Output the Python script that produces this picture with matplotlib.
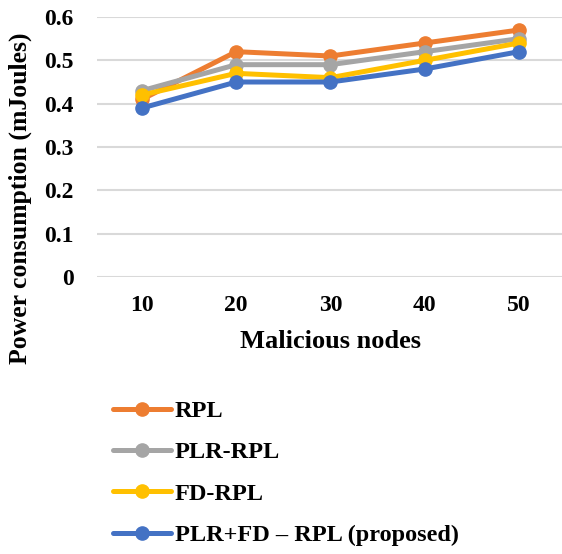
import matplotlib
matplotlib.use("Agg")
import matplotlib.pyplot as plt

categories = ["10", "20", "30", "40", "50"]
rpl = [0.41, 0.52, 0.51, 0.54, 0.57]
plr_rpl = [0.43, 0.49, 0.49, 0.52, 0.55]
fd_rpl = [0.42, 0.47, 0.46, 0.50, 0.54]
proposed = [0.39, 0.45, 0.45, 0.48, 0.52]
series_names = ["RPL", "PLR-RPL", "FD-RPL", "PLR+FD \u2013 RPL (proposed)"]
colors = ["#ED7D31", "#A5A5A5", "#FFC000", "#4472C4"]
yticks = [0, 0.1, 0.2, 0.3, 0.4, 0.5, 0.6]

plt.rcParams['font.family'] = ['Liberation Serif', 'DejaVu Serif']
plt.rcParams['font.weight'] = 'bold'

fig = plt.figure(figsize=(5.62, 5.54), dpi=100)
ax = fig.add_axes([97/562, 0.5, 465/562, 0.4693])

x = list(range(len(categories)))
handles = []
for vals, name, c in zip([rpl, plr_rpl, fd_rpl, proposed], series_names, colors):
    h, = ax.plot(x, vals, color=c, lw=3.6, marker='o', markersize=9.5, label=name,
                 solid_capstyle='round', solid_joinstyle='round')
    handles.append(h)

ax.set_ylim(0, 0.6)
ax.set_xlim(-0.477, 4.456)
ax.set_yticks(yticks)
ax.set_yticklabels(["0", "0.1", "0.2", "0.3", "0.4", "0.5", "0.6"], fontsize=17, fontweight='bold')
ax.set_xticks(x)
ax.set_xticklabels(categories, fontsize=17, fontweight='bold')
ax.grid(axis='y', color='#d9d9d9', lw=1.5)
ax.set_axisbelow(True)
for s in ax.spines.values():
    s.set_visible(False)
ax.tick_params(length=0)
ax.tick_params(axis='x', pad=13)
ax.tick_params(axis='y', pad=17)

fig.text(330/562, 1-342/554, "Malicious nodes", ha='center', va='center', fontsize=19, fontweight='bold')
fig.text(20/562, 1-198/554, "Power consumption (mJoules)", ha='center', va='center',
         rotation=90, fontsize=18.5, fontweight='bold')

leg = fig.legend(handles=handles, loc='upper left', bbox_to_anchor=(113/562, 1-400/554),
                 frameon=False, handlelength=2.4, labelspacing=0.8, borderpad=0,
                 borderaxespad=0, handletextpad=0.15, prop={'weight': 'bold', 'size': 17.5})

fig.savefig("out.png", dpi=100)
